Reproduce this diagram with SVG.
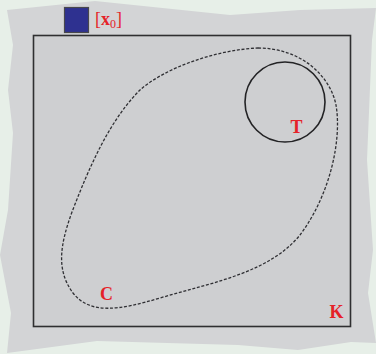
<svg xmlns="http://www.w3.org/2000/svg" width="376" height="354" viewBox="0 0 376 354">
<style>
.lbl{font-family:"Liberation Serif","DejaVu Serif",serif;fill:#e52228;}
.b{font-weight:bold;font-size:18px;}
</style>
<rect x="0" y="0" width="376" height="354" fill="#e7efe8"/>
<g id="paper">
<polygon points="7,10 95,1 230,15 300,10 376,8 372,40 367,160 373,250 368,293 376,343 351,342 298,350 238,345 97,341 7,353 11,313 0,255 8,210 13,133 8,90 13,45" fill="#d3d4d6"/>
</g>
<g id="K">
<rect x="33.5" y="35.5" width="317" height="291" fill="#cecfd1" stroke="#2f2f31" stroke-width="1.6"/>
<text class="lbl b" x="336.5" y="318" text-anchor="middle">K</text>
</g>
<g id="C">
<path d="M258,48 C300,48 330,75 336,105 C342,140 330,195 300,235 C270,272 215,282 160,298 C120,310 90,315 73,293 C56,270 60,245 72,212 C90,165 110,120 140,90 C165,68 215,50 258,48 Z" fill="none" stroke="#2f2f33" stroke-width="1.3" stroke-dasharray="3 1.7"/>
<text class="lbl b" x="106.5" y="300" text-anchor="middle">C</text>
</g>
<g id="T">
<circle cx="285" cy="102" r="40" fill="none" stroke="#232325" stroke-width="1.6"/>
<text class="lbl b" x="296.5" y="133" text-anchor="middle">T</text>
</g>
<g id="x0">
<rect x="64.5" y="7.5" width="24" height="25" fill="#2e3190" stroke="#48484c" stroke-width="1.2"/>
<text class="lbl" x="95" y="25" font-size="18">[<tspan font-weight="bold">x</tspan><tspan font-size="12" dy="3">0</tspan><tspan dy="-3">]</tspan></text>
</g>
<g id="connectors"/>
</svg>
